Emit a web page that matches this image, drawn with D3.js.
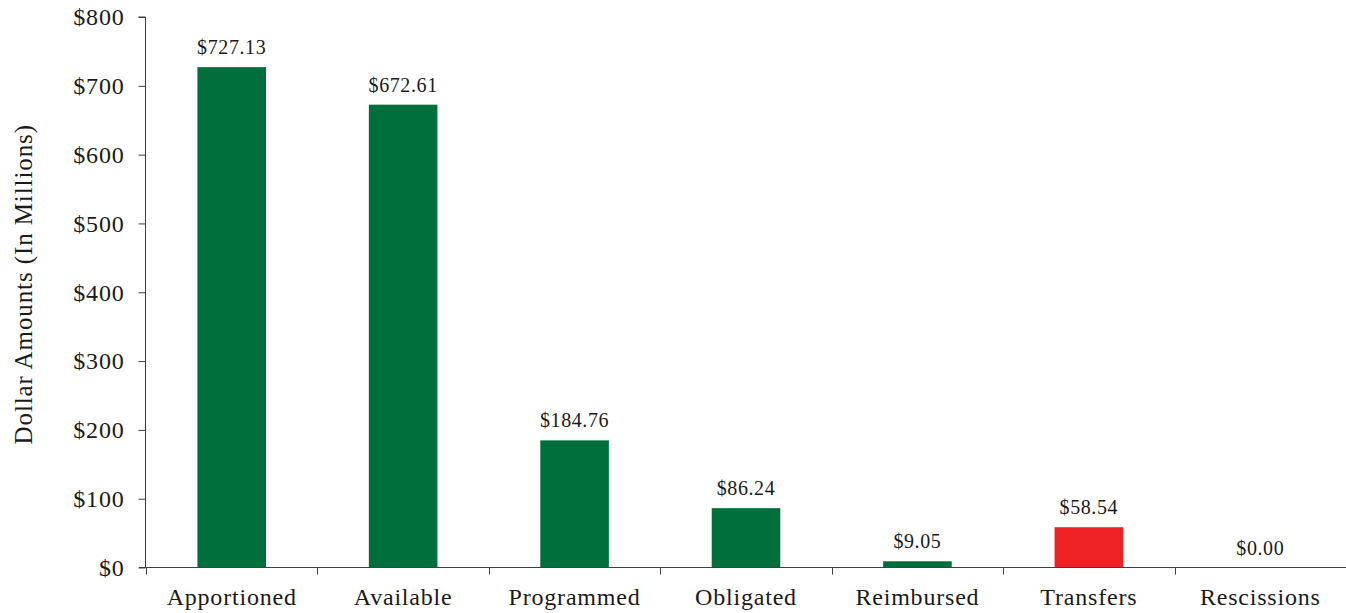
<!DOCTYPE html>
<html>
<head>
<meta charset="utf-8">
<script src="https://cdn.jsdelivr.net/npm/d3@7"></script>
<style>
  html, body { margin: 0; padding: 0; background: #fff; }
  svg { display: block; }
  text { font-family: "Liberation Serif", "Times New Roman", serif; fill: #1a1a1a; }
</style>
</head>
<body>
<svg id="chart" width="1346" height="613"></svg>
<script>
// Funding status by stage, in millions of dollars
const categories = ["Apportioned", "Available", "Programmed", "Obligated", "Reimbursed", "Transfers", "Rescissions"];
const amounts = [727.13, 672.61, 184.76, 86.24, 9.05, 58.54, 0.00];
const barColors = ["#006f3b", "#006f3b", "#006f3b", "#006f3b", "#006f3b", "#ee2225", "#006f3b"];
const yTicks = [0, 100, 200, 300, 400, 500, 600, 700, 800];
const yTitle = "Dollar Amounts (In Millions)";

const svg = d3.select("#chart");
const margin = { left: 146, right: 0, top: 17, bottom: 45 };
const width = 1346, height = 613;

const x = d3.scaleBand()
  .domain(categories)
  .range([margin.left, width - margin.right])
  .paddingInner(0.6)
  .paddingOuter(0.3);

const y = d3.scaleLinear()
  .domain([0, 800])
  .range([height - margin.bottom - 0.5, margin.top]);

const axisColor = "#404040";

// Bars
svg.append("g")
  .selectAll("rect")
  .data(amounts)
  .join("rect")
  .attr("x", (d, i) => x(categories[i]))
  .attr("width", x.bandwidth())
  .attr("y", d => y(d))
  .attr("height", d => y(0) - y(d))
  .attr("fill", (d, i) => barColors[i]);

// Value labels above bars
svg.append("g")
  .selectAll("text")
  .data(amounts)
  .join("text")
  .attr("x", (d, i) => x(categories[i]) + x.bandwidth() / 2)
  .attr("y", d => y(d) - 13)
  .attr("text-anchor", "middle")
  .style("font-size", "20px")
  .style("letter-spacing", "0.6px")
  .text(d => "$" + d3.format(".2f")(d));

// Y axis
const yAxis = svg.append("g")
  .attr("transform", `translate(${margin.left - 0.5},0)`)
  .call(d3.axisLeft(y).tickValues(yTicks).tickSize(7).tickPadding(14)
    .tickFormat(d => "$" + d));
yAxis.select(".domain").attr("stroke", axisColor).attr("d", `M-7,${y(800)}H0V${y(0)}`);
yAxis.selectAll(".tick line").attr("stroke", axisColor);
yAxis.selectAll(".tick text")
  .style("font-size", "24px")
  .style("letter-spacing", "0.8px")
  .attr("fill", "#1a1a1a")
  .attr("dy", "0.33em");

// X axis: ticks sit on the band boundaries
const boundaries = categories.map(c => x(c) - x.step() * x.paddingInner() / 2);
boundaries.push(width - margin.right);
const xAxisG = svg.append("g").attr("transform", `translate(0,${y(0)})`);
xAxisG.append("line")
  .attr("x1", margin.left - 7).attr("x2", width)
  .attr("stroke", axisColor);
xAxisG.selectAll("line.tick")
  .data(boundaries.slice(0, categories.length))
  .join("line")
  .attr("class", "tick")
  .attr("x1", d => Math.round(d) + 0.5).attr("x2", d => Math.round(d) + 0.5)
  .attr("y1", 0).attr("y2", 7)
  .attr("stroke", axisColor);
xAxisG.selectAll("text")
  .data(categories)
  .join("text")
  .attr("x", d => x(d) + x.bandwidth() / 2)
  .attr("y", 37)
  .attr("text-anchor", "middle")
  .style("font-size", "24px")
  .style("letter-spacing", "0.8px")
  .text(d => d);

// Y axis title
svg.append("text")
  .attr("transform", `translate(32,${(y(0) + y(800)) / 2 - 8}) rotate(-90)`)
  .attr("text-anchor", "middle")
  .style("font-size", "25px")
  .style("letter-spacing", "0.9px")
  .text(yTitle);
</script>
</body>
</html>
